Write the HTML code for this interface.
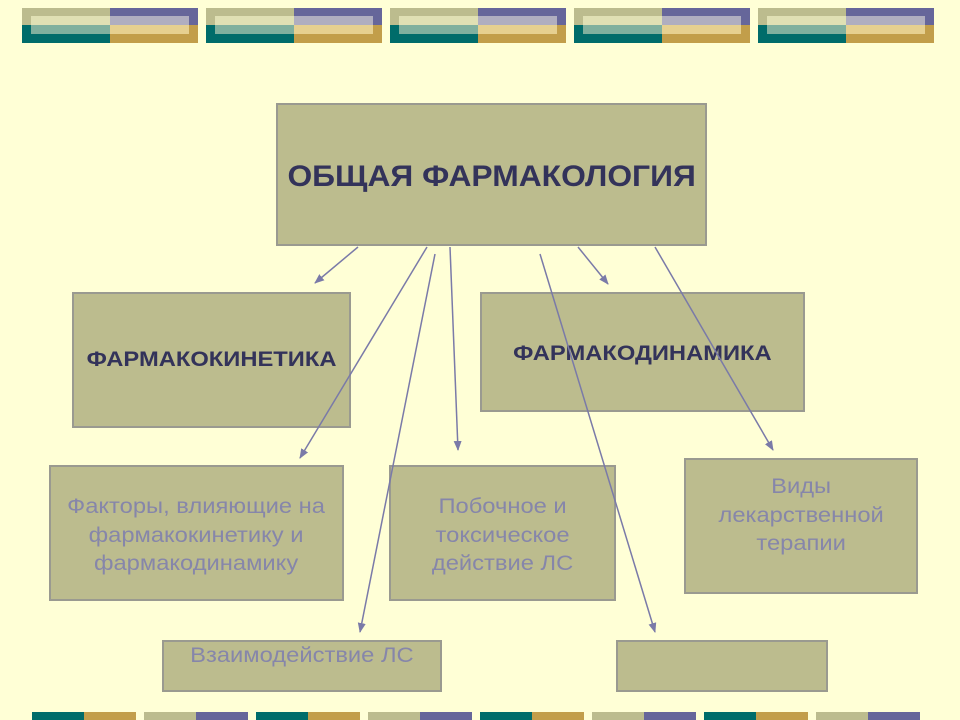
<!DOCTYPE html>
<html><head><meta charset="utf-8"><style>
body{margin:0;width:960px;height:720px;background:#ffffd6;position:relative;overflow:hidden;font-family:"Liberation Sans",sans-serif}
.b{position:absolute;background:#bcbc8e;border:2px solid #9a9a90;box-sizing:border-box;display:flex;align-items:center;justify-content:center;text-align:center}
.b span{display:inline-block;white-space:nowrap}
.h{color:#33335a;font-weight:bold}
.h span{transform:scaleX(1.13)}
.t{color:#8686aa;font-size:21px;line-height:28.5px}
.t span{transform:scaleX(1.13)}
</style></head><body>
<svg width="960" height="720" style="position:absolute;left:0;top:0">
<defs>
<g id="tb">
<rect x="0" y="0" width="88" height="17" fill="#bcbc8e"/><rect x="88" y="0" width="88" height="17" fill="#66669a"/>
<rect x="0" y="17" width="88" height="18" fill="#006c6a"/><rect x="88" y="17" width="88" height="18" fill="#c29e4a"/>
<rect x="9" y="8" width="79" height="9" fill="#e0e0b4"/><rect x="88" y="8" width="79" height="9" fill="#b0aec0"/>
<rect x="9" y="17" width="79" height="9" fill="#80b09e"/><rect x="88" y="17" width="79" height="9" fill="#e6d090"/>
</g>
<marker id="a" markerWidth="10" markerHeight="8" refX="9" refY="4" orient="auto" markerUnits="userSpaceOnUse"><path d="M0,0L10,4L0,8z" fill="#7a7aa8"/></marker>
</defs>
<use href="#tb" x="22" y="8"/><use href="#tb" x="206" y="8"/><use href="#tb" x="390" y="8"/><use href="#tb" x="574" y="8"/><use href="#tb" x="758" y="8"/>
<g>
<rect x="32" y="712" width="52" height="8" fill="#006c6a"/><rect x="84" y="712" width="52" height="8" fill="#c29e4a"/>
<rect x="144" y="712" width="52" height="8" fill="#bcbc8e"/><rect x="196" y="712" width="52" height="8" fill="#66669a"/>
<rect x="256" y="712" width="52" height="8" fill="#006c6a"/><rect x="308" y="712" width="52" height="8" fill="#c29e4a"/>
<rect x="368" y="712" width="52" height="8" fill="#bcbc8e"/><rect x="420" y="712" width="52" height="8" fill="#66669a"/>
<rect x="480" y="712" width="52" height="8" fill="#006c6a"/><rect x="532" y="712" width="52" height="8" fill="#c29e4a"/>
<rect x="592" y="712" width="52" height="8" fill="#bcbc8e"/><rect x="644" y="712" width="52" height="8" fill="#66669a"/>
<rect x="704" y="712" width="52" height="8" fill="#006c6a"/><rect x="756" y="712" width="52" height="8" fill="#c29e4a"/>
<rect x="816" y="712" width="52" height="8" fill="#bcbc8e"/><rect x="868" y="712" width="52" height="8" fill="#66669a"/>
</g>
</svg>
<div class="b h" style="left:276px;top:103px;width:431px;height:143px;font-size:30px;padding-top:4px"><span style="transform:scaleX(1.06)">ОБЩАЯ ФАРМАКОЛОГИЯ</span></div>
<div class="b h" style="left:72px;top:292px;width:279px;height:136px;font-size:21px"><span>ФАРМАКОКИНЕТИКА</span></div>
<div class="b h" style="left:480px;top:292px;width:325px;height:120px;font-size:21px;align-items:flex-start;padding-top:48px"><span>ФАРМАКОДИНАМИКА</span></div>
<div class="b t" style="left:49px;top:465px;width:295px;height:136px;padding-top:6px"><span>Факторы, влияющие на<br>фармакокинетику и<br>фармакодинамику</span></div>
<div class="b t" style="left:389px;top:465px;width:227px;height:136px;padding-top:6px"><span>Побочное и<br>токсическое<br>действие ЛС</span></div>
<div class="b t" style="left:684px;top:458px;width:234px;height:136px;align-items:flex-start;padding-top:13px"><span>Виды<br>лекарственной<br>терапии</span></div>
<div class="b t" style="left:162px;top:640px;width:280px;height:52px;align-items:flex-start;padding-top:0"><span>Взаимодействие ЛС</span></div>
<div class="b" style="left:616px;top:640px;width:212px;height:52px"></div>
<svg width="960" height="720" style="position:absolute;left:0;top:0;pointer-events:none">
<g stroke="#7a7aa8" stroke-width="1.5" marker-end="url(#a)" fill="none">
<line x1="358" y1="247" x2="315" y2="283"/>
<line x1="427" y1="247" x2="300" y2="458"/>
<line x1="435" y1="254" x2="360" y2="632"/>
<line x1="450" y1="247" x2="458" y2="450"/>
<line x1="540" y1="254" x2="655" y2="632"/>
<line x1="578" y1="247" x2="608" y2="284"/>
<line x1="655" y1="247" x2="773" y2="450"/>
</g>
</svg>
</body></html>
